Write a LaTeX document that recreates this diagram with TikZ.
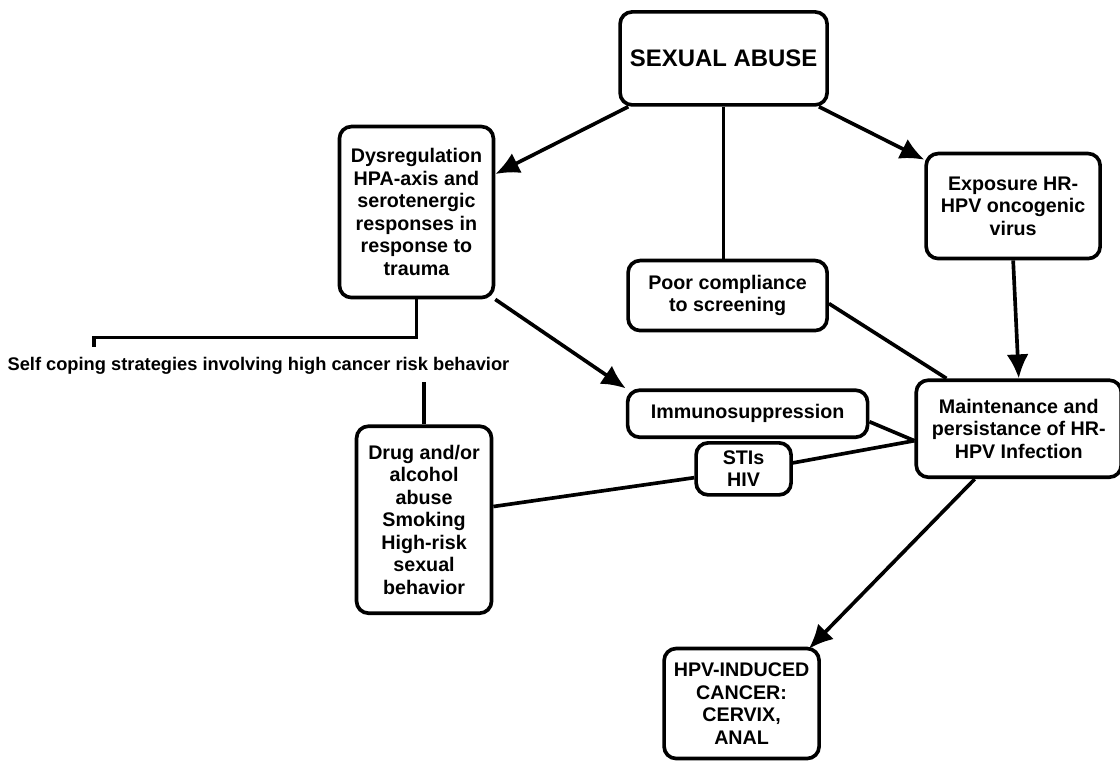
\documentclass[tikz,border=0pt]{standalone}
\usepackage{fontspec}
\setmainfont{Liberation Sans}
\usepackage{tikz}
\usetikzlibrary{arrows.meta,calc,positioning}

\begin{document}
\begin{tikzpicture}[auto,>={Latex[length=0.6cm,width=0.55cm]},line width=2.6pt]
	\tikzstyle{block} = [draw, rectangle, rounded corners=0.3cm, align=center, inner sep=0pt, font=\bfseries\fontsize{14}{16}\selectfont]
	\useasboundingbox (0,0) rectangle (28,-19.1);
	
	\node [block, minimum width=5.175cm, minimum height=2.325cm, font=\bfseries\fontsize{17}{20}\selectfont] (sa) at (18.09,-1.46) {SEXUAL ABUSE};
	
	\node [block, minimum width=3.85cm, minimum height=4.275cm, below left=0.45cm and 3.075cm of sa] (dys) {Dysregulation\\HPA-axis and\\serotenergic\\responses in\\response to\\trauma};
	
	\node [block, minimum width=4.975cm, minimum height=1.75cm, below=3.8cm of sa, xshift=0.1cm] (poor) {Poor compliance\\to screening};
	
	\node [block, minimum width=6cm, minimum height=1.175cm, below=1.4cm of poor, xshift=0.5cm] (immuno) {Immunosuppression};
	
	\node [block, minimum width=2.375cm, minimum height=1.3cm, below=0.05cm of immuno, xshift=-0.1cm] (stis) {STIs\\HIV};
	
	\node [block, minimum width=3.875cm, minimum height=2.75cm, below=3.75cm of stis, xshift=-0.05cm] (cancer) {HPV-INDUCED\\CANCER:\\CERVIX,\\ANAL};
	
	\node [block, minimum width=5.125cm, minimum height=2.425cm, right=1.125cm of immuno, yshift=-0.375cm] (maint) {Maintenance and\\persistance of HR-\\HPV Infection};
	
	\node [block, minimum width=4.35cm, minimum height=2.625cm, above=2.95cm of maint, xshift=-0.14cm] (expo) {Exposure HR-\\HPV oncogenic\\virus};
	
	\node [block, minimum width=3.375cm, minimum height=4.675cm, below=3.125cm of dys, xshift=0.19cm] (drug) {Drug and/or\\alcohol\\abuse\\Smoking\\High-risk\\sexual\\behavior};
	
	\node [inner sep=0pt, font=\bfseries\fontsize{13}{15}\selectfont, below=1.4cm of dys, xshift=-3.95cm] (coping) {Self coping strategies involving high cancer risk behavior};
	
	\node [coordinate, above right=0.2cm and 2.2cm of coping.north west] (copin) {};
	
	\draw [->] ([xshift=0.25cm]sa.south west) -- ([yshift=0.95cm]dys.east);
	\draw [->] ([xshift=-0.25cm]sa.south east) -- ([yshift=-0.2cm]expo.north west);
	\draw (sa.south) -- (sa.south |- poor.north);
	\draw [->] (expo.south) -- (maint.north);
	\draw ([yshift=-0.2cm]poor.east) -- ([xshift=0.8cm]maint.north west);
	\draw [->] (dys.south east) -- (immuno.north west);
	\draw (dys.south) -- ++(0,-0.95) -| (copin);
	\draw ([yshift=-0.15cm]coping.south -| drug.north) -- (drug.north);
	\draw ([yshift=-0.2cm]immuno.east) -- ([yshift=-0.3cm]maint.west);
	\draw ([yshift=0.15cm]stis.east) -- ([yshift=-0.3cm]maint.west);
	\draw ([yshift=0.33cm]drug.east) -- ([yshift=-0.22cm]stis.west);
	\draw [->] ([xshift=-1.1cm]maint.south) -- ([xshift=-0.3cm,yshift=-0.05cm]cancer.north east);
\end{tikzpicture}
\end{document}
